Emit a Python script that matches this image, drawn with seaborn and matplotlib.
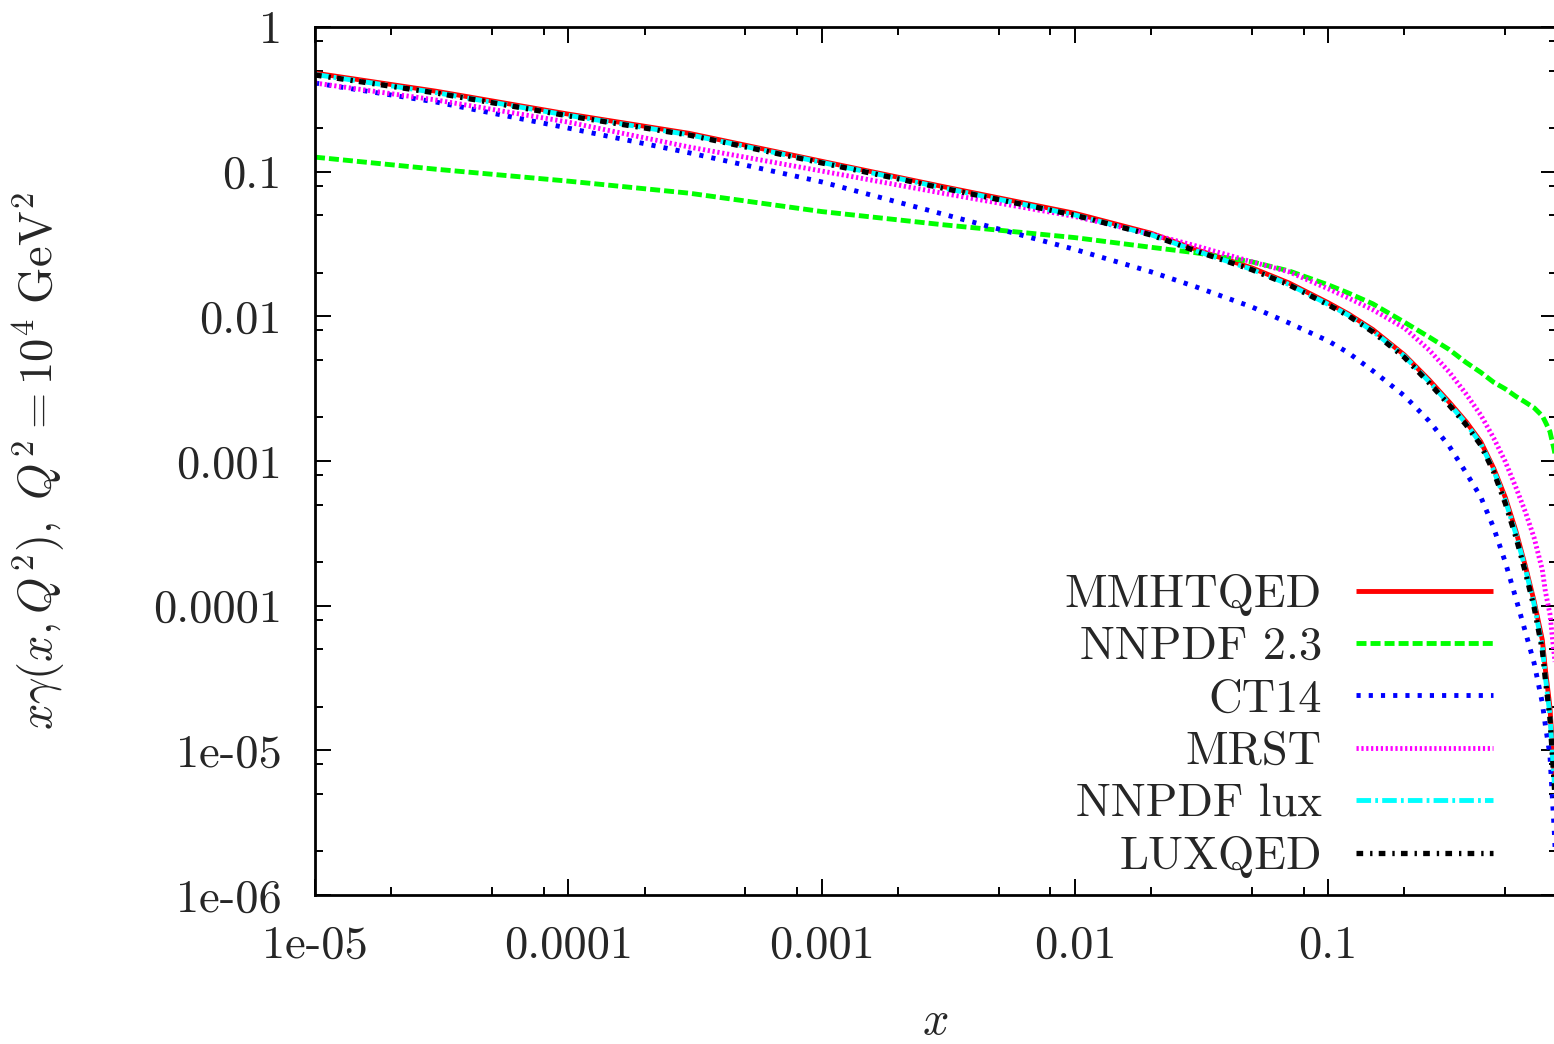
import numpy as np
import pandas as pd
import matplotlib
matplotlib.use("Agg")
import matplotlib.pyplot as plt
from matplotlib.ticker import LogLocator, FixedLocator, FixedFormatter, NullFormatter
import seaborn as sns

# x grid (log axis)
x_vals = [1e-5, 3e-5, 1e-4, 3e-4, 1e-3, 3e-3, 1e-2, 2e-2, 3e-2, 5e-2, 0.07,
          0.1, 0.12, 0.15, 0.2, 0.25, 0.3, 0.35, 0.4, 0.45, 0.5, 0.55, 0.6,
          0.65, 0.7, 0.72, 0.75, 0.78, 0.8]

# photon PDF x*gamma(x, Q^2) at Q^2 = 1e4 GeV^2
luxqed = [0.466, 0.35, 0.243, 0.179, 0.115, 0.077, 0.050, 0.0365, 0.0283, 0.021, 0.0165,
          0.012, 0.0101, 0.0078, 0.0052, 3.47e-3, 2.44e-3, 1.78e-3, 1.29e-3, 8.4e-4, 5.1e-4,
          3.0e-4, 1.71e-4, 9.7e-5, 4.95e-5, 3.07e-5, 1.68e-5, 5.8e-6, 2.8e-6]
mmhtqed = [0.48, 0.36, 0.25, 0.184, 0.118, 0.079, 0.0515, 0.0375, 0.029, 0.0216, 0.017,
           0.0124, 0.0104, 0.0081, 0.0054, 3.64e-3, 2.56e-3, 1.87e-3, 1.36e-3, 8.9e-4, 5.6e-4,
           3.3e-4, 1.88e-4, 1.07e-4, 5.8e-5, 3.6e-5, 2.0e-5, 6.9e-6, 3.3e-6]
nnpdf_lux = [0.47, 0.352, 0.245, 0.18, 0.116, 0.0775, 0.0502, 0.0366, 0.0284, 0.0211, 0.0166,
             0.0121, 0.0102, 0.0079, 0.0053, 3.54e-3, 2.49e-3, 1.82e-3, 1.32e-3, 8.6e-4, 5.35e-4,
             3.15e-4, 1.8e-4, 1.02e-4, 5.2e-5, 3.2e-5, 1.76e-5, 6.1e-6, 2.95e-6]
mrst = [0.41, 0.313, 0.220, 0.148, 0.101, 0.071, 0.049, 0.037, 0.0307, 0.0238, 0.0203,
        0.0155, 0.0134, 0.0111, 0.0083, 0.00586, 4.13e-3, 2.91e-3, 2.08e-3, 1.44e-3, 9.9e-4,
        6.6e-4, 4.45e-4, 2.94e-4, 1.77e-4, 1.25e-4, 8.8e-5, 4.57e-5, 3.07e-5]
ct14 = [0.41, 0.303, 0.20, 0.135, 0.085, 0.051, 0.029, 0.0203, 0.016, 0.0116, 9.0e-3,
        6.76e-3, 5.6e-3, 4.2e-3, 2.82e-3, 1.89e-3, 1.27e-3, 8.3e-4, 5.65e-4, 3.45e-4, 2.0e-4,
        1.13e-4, 6.6e-5, 4.0e-5, 2.13e-5, 1.48e-5, 9.3e-6, 2.8e-6, 1.1e-6]
nnpdf23 = [0.126, 0.104, 0.086, 0.071, 0.053, 0.043, 0.035, 0.030, 0.0275, 0.0238, 0.0206,
           0.0165, 0.0145, 0.0122, 9.1e-3, 7.2e-3, 5.9e-3, 4.8e-3, 4.1e-3, 3.5e-3, 3.15e-3,
           2.8e-3, 2.55e-3, 2.33e-3, 2.05e-3, 1.86e-3, 1.6e-3, 1.19e-3, 9.4e-4]

labels = ["MMHTQED", "NNPDF 2.3", "CT14", "MRST", "NNPDF lux", "LUXQED"]
series = [mmhtqed, nnpdf23, ct14, mrst, nnpdf_lux, luxqed]
colors = ["#ff0000", "#00ff00", "#0000ff", "#ff00ff", "#00ffff", "#000000"]
styles = ["-", (0, (7.2, 2.9)), (0, (3.0, 5.8)), (0, (1.6, 1.9)),
          (0, (10.5, 3.0, 2.0, 3.0)), (0, (4.8, 5.0, 1.7, 4.5))]
widths = [3.5, 3.5, 3.5, 3.5, 3.5, 3.8]

y_ticks = [1e-6, 1e-5, 1e-4, 1e-3, 1e-2, 1e-1, 1]
y_ticklabels = ["1e-06", "1e-05", "0.0001", "0.001", "0.01", "0.1", "1"]
x_ticks = [1e-5, 1e-4, 1e-3, 1e-2, 1e-1]
x_ticklabels = ["1e-05", "0.0001", "0.001", "0.01", "0.1"]

sns.set_style("ticks")
plt.rcParams["font.family"] = ["cmr10", "DejaVu Serif"]
plt.rcParams["mathtext.fontset"] = "cm"
plt.rcParams["axes.unicode_minus"] = False
plt.rcParams["axes.formatter.use_mathtext"] = True
plt.rcParams["lines.scale_dashes"] = False

fig = plt.figure(figsize=(15.54, 10.44), dpi=100)
W, H = 1554, 1044
ax = fig.add_axes([315 / W, (H - 895) / H, (1557 - 315) / W, (895 - 27) / H])
ax.set_xscale("log")
ax.set_yscale("log")

for lab, ys, col, ls, lw in zip(labels, series, colors, styles, widths):
    df = pd.DataFrame({"x": x_vals, "y": ys})
    sns.lineplot(data=df, x="x", y="y", ax=ax, color=col, linestyle=ls,
                 linewidth=lw, label=lab, estimator=None, legend=False,
                 dash_capstyle="butt", solid_capstyle="butt")

ax.set_xlim(1e-5, 0.8)
ax.set_ylim(1e-6, 1)

fs = 33.5
ax.xaxis.set_major_locator(FixedLocator(x_ticks))
ax.xaxis.set_major_formatter(FixedFormatter(x_ticklabels))
ax.yaxis.set_major_locator(FixedLocator(y_ticks))
ax.yaxis.set_major_formatter(FixedFormatter(y_ticklabels))
ax.xaxis.set_minor_locator(LogLocator(base=10, subs=[2, 5, 8], numticks=20))
ax.yaxis.set_minor_locator(LogLocator(base=10, subs=[2, 5, 8], numticks=20))
ax.xaxis.set_minor_formatter(NullFormatter())
ax.yaxis.set_minor_formatter(NullFormatter())
ax.tick_params(which="both", direction="in", top=True, right=True,
               color="black", labelsize=fs)
ax.tick_params(which="major", length=11.5, width=1.4)
ax.tick_params(which="minor", length=5.8, width=1.4)
ax.tick_params(axis="y", which="major", pad=24)
ax.tick_params(axis="x", which="major", pad=22)
for sp in ax.spines.values():
    sp.set_linewidth(2.0)
    sp.set_color("black")

ax.set_xlabel(r"$x$", fontsize=fs)
ax.set_ylabel(r"$x\gamma(x,Q^2),\ Q^2=10^4\ \mathrm{GeV}^2$", fontsize=fs)
ax.xaxis.set_label_coords(0.499, -0.123)
ax.yaxis.set_label_coords(-0.2, 0.5)

handles = ax.get_lines()
ax.legend(handles, labels, loc="lower right", markerfirst=False, frameon=False,
          fontsize=fs, handlelength=2.95, handletextpad=0.73, labelspacing=0.23,
          borderpad=0, borderaxespad=0,
          bbox_to_anchor=(1493 / W, (H - 878) / H), bbox_transform=fig.transFigure)

fig.savefig("out.png", dpi=100, facecolor="white")
